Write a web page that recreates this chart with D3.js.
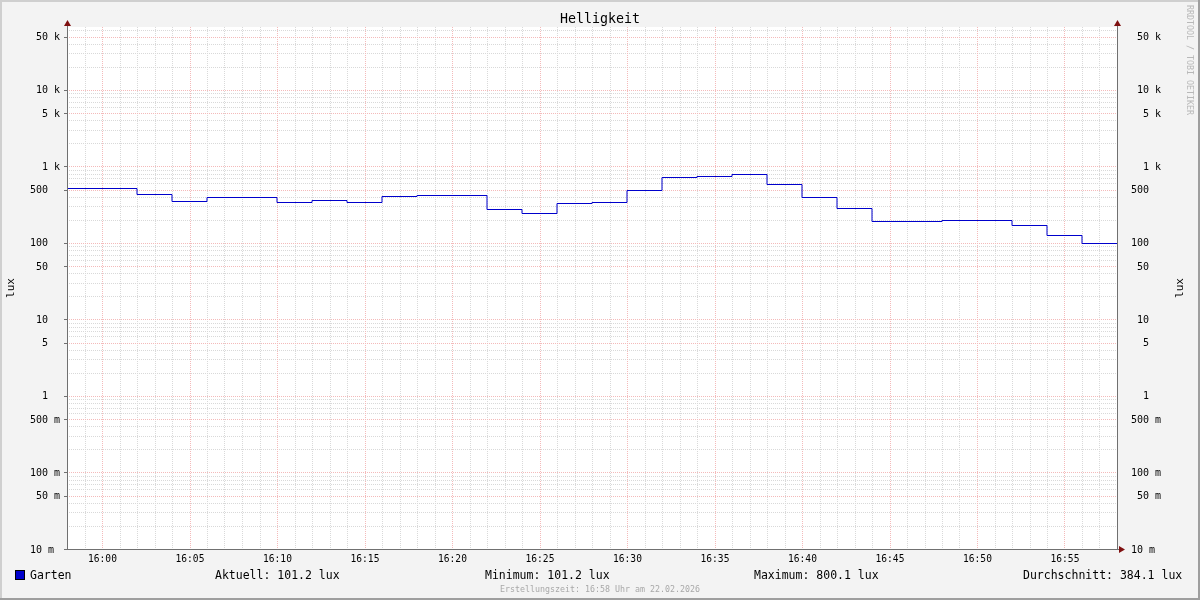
<!DOCTYPE html>
<html><head><meta charset="utf-8">
<script src="https://cdn.jsdelivr.net/npm/d3@7"></script>
<style>
html,body{margin:0;padding:0;background:#fff;}
svg{display:block;}
text{font-family:"DejaVu Sans Mono",monospace;white-space:pre;}
.txt{opacity:0.999;}
</style></head>
<body><svg id="c" width="1200" height="600"></svg>
<script>
// ---- data ----
const title = "Helligkeit";
const yLabel = "lux";
const seriesName = "Garten";
// start time of each 2-minute step
const stepStarts = ["15:58","16:00","16:02","16:04","16:06","16:08","16:10","16:12","16:14","16:16","16:18","16:20","16:22","16:24","16:26","16:28","16:30","16:32","16:34","16:36","16:38","16:40","16:42","16:44","16:46","16:48","16:50","16:52","16:54","16:56"];
const luxValues = [530,530,433,351,396,396,340,368,340,408,420,420,276,244,330,340,497,723,745,800,585,396,284,193,193,202,202,172,127,101.2];
const xTickLabels = ["16:00","16:05","16:10","16:15","16:20","16:25","16:30","16:35","16:40","16:45","16:50","16:55"];
const yTickValues = [0.01,0.05,0.1,0.5,1,5,10,50,100,500,1000,5000,10000,50000];
const yTickLabels = ["10 m"," 50 m","100 m","500 m","  1  ","  5  "," 10  "," 50  ","100  ","500  ","  1 k","  5 k"," 10 k"," 50 k"];
const legendItems = ["Aktuell: 101.2 lux","Minimum: 101.2 lux","Maximum: 800.1 lux","Durchschnitt: 384.1 lux"];
const footer = "Erstellungszeit: 16:58 Uhr am 22.02.2026";
const watermark = "RRDTOOL / TOBI OETIKER";

// ---- drawing ----
const svg = d3.select("#c");
const W=1200,H=600;
const L=67,R=1117,T=27,B=549;
const parseT = d3.timeParse("%H:%M");
const t0 = parseT("15:58"), t1 = parseT("16:58");
const x = d3.scaleTime().domain([t0,t1]).range([L,R]);
const y = d3.scaleLog().domain([0.01,66600]).range([B,T]);

// background + frame
svg.append("rect").attr("width",W).attr("height",H).attr("fill","#F3F3F3");
svg.append("path").attr("d",`M0,0H${W}V2H2V${H}H0Z`).attr("fill","#CFCFCF");
svg.append("path").attr("d",`M${W},0V${H}H0V${H-2}H${W-2}V0Z`).attr("fill","#9E9E9E");
svg.append("rect").attr("x",L).attr("y",T).attr("width",R-L).attr("height",B-T).attr("fill","#FFFFFF");

const g = svg.append("g");
const minorC="#D9D9D9", majorC="#F4BABA";
// minor vertical grid (1 min)
const minorX = d3.timeMinute.range(t0, d3.timeMinute.offset(t1,1)).filter(d=>d.getMinutes()%5!==0 && x(d)>L && x(d)<R);
g.selectAll(".vmin").data(minorX).join("line")
  .attr("x1",d=>Math.round(x(d))+0.5).attr("x2",d=>Math.round(x(d))+0.5).attr("y1",T).attr("y2",B)
  .attr("stroke",minorC).attr("stroke-dasharray","1,1");
// minor horizontal grid
const minorY=[];
for(let e=-2;e<=4;e++){for(let m=2;m<=9;m++){if(m===5)continue;const v=m*Math.pow(10,e);if(y(v)>T)minorY.push(v);}}
g.selectAll(".hmin").data(minorY).join("line")
  .attr("x1",L).attr("x2",R).attr("y1",d=>Math.round(y(d))+0.5).attr("y2",d=>Math.round(y(d))+0.5)
  .attr("stroke",minorC).attr("stroke-dasharray","1,1");
// major grid
const majorX = xTickLabels.map(parseT);
g.selectAll(".vmaj").data(majorX).join("line")
  .attr("x1",d=>Math.round(x(d))+0.5).attr("x2",d=>Math.round(x(d))+0.5).attr("y1",T).attr("y2",B)
  .attr("stroke",majorC).attr("stroke-dasharray","1,1");
g.selectAll(".hmaj").data(yTickValues.slice(1)).join("line")
  .attr("x1",L).attr("x2",R).attr("y1",d=>Math.round(y(d))+0.5).attr("y2",d=>Math.round(y(d))+0.5)
  .attr("stroke",majorC).attr("stroke-dasharray","1,1");

// data line (step)
const pts = stepStarts.map((s,i)=>[parseT(s),luxValues[i]]);
pts.push([t1,luxValues[luxValues.length-1]]);
const line = d3.line().x(d=>x(d[0])).y(d=>Math.round(y(d[1]))+0.5).curve(d3.curveStepAfter);
svg.append("path").datum(pts).attr("d",line).attr("fill","none").attr("stroke","#0000CC").attr("stroke-width",1);

// axes
const ax = svg.append("g").attr("stroke","#707070").attr("stroke-width",1);
ax.append("line").attr("x1",L+0.5).attr("x2",L+0.5).attr("y1",B+1).attr("y2",24);
ax.append("line").attr("x1",R+0.5).attr("x2",R+0.5).attr("y1",B+1).attr("y2",24);
ax.append("line").attr("x1",L-3).attr("x2",R+3).attr("y1",B+0.5).attr("y2",B+0.5);
ax.selectAll(".tk").data(yTickValues).join("line").attr("x1",L-3).attr("x2",L).attr("y1",d=>Math.round(y(d))+0.5).attr("y2",d=>Math.round(y(d))+0.5);
const arrowC="#7F1010";
svg.append("path").attr("d",`M${L-3},26 L${L+4},26 L${L+0.5},20 Z`).attr("fill",arrowC);
svg.append("path").attr("d",`M${R-3},26 L${R+4},26 L${R+0.5},20 Z`).attr("fill",arrowC);
svg.append("path").attr("d",`M${R+2},${B-3} L${R+2},${B+4} L${R+8},${B+0.5} Z`).attr("fill",arrowC);

const tg = svg.append("g").attr("class","txt");
// y labels
const ylab = tg.append("g").attr("font-size","10px").attr("fill","#000");
ylab.selectAll(".yl").data(yTickValues).join("text").attr("x",30).attr("y",d=>y(d)+3.5).text((d,i)=>yTickLabels[i]);
ylab.selectAll(".yr").data(yTickValues).join("text").attr("x",1131).attr("y",d=>y(d)+3.5).text((d,i)=>yTickLabels[i]);
// x labels
tg.append("g").attr("font-size","9.6px").selectAll("text").data(majorX).join("text")
  .attr("x",d=>x(d)+0.5).attr("y",562).attr("text-anchor","middle").text((d,i)=>xTickLabels[i]);
// axis titles
tg.append("text").attr("transform",`translate(14,${(T+B)/2}) rotate(-90)`).attr("text-anchor","middle").attr("font-size","11px").text(yLabel);
tg.append("text").attr("transform",`translate(1183,${(T+B)/2}) rotate(-90)`).attr("text-anchor","middle").attr("font-size","11px").text(yLabel);
// title
tg.append("text").attr("x",600).attr("y",23).attr("text-anchor","middle").attr("font-size","13.3px").text(title);
// watermark
tg.append("text").attr("transform","translate(1187,5) rotate(90)").attr("font-size","8.3px").attr("fill","#B8B8B8").text(watermark);
// legend
svg.append("rect").attr("x",15.5).attr("y",570.5).attr("width",9).attr("height",9).attr("fill","#0000CC").attr("stroke","#000");
tg.append("text").attr("x",30).attr("y",579).attr("font-size","11.5px").text(seriesName);
const legX=[215,485,754,1023];
tg.append("g").attr("font-size","11.5px").selectAll("text").data(legendItems).join("text")
  .attr("x",(d,i)=>legX[i]).attr("y",579).text(d=>d);
tg.append("text").attr("x",600).attr("y",592).attr("text-anchor","middle").attr("font-size","8.3px").attr("fill","#A8A8A8").text(footer);
</script></body></html>
